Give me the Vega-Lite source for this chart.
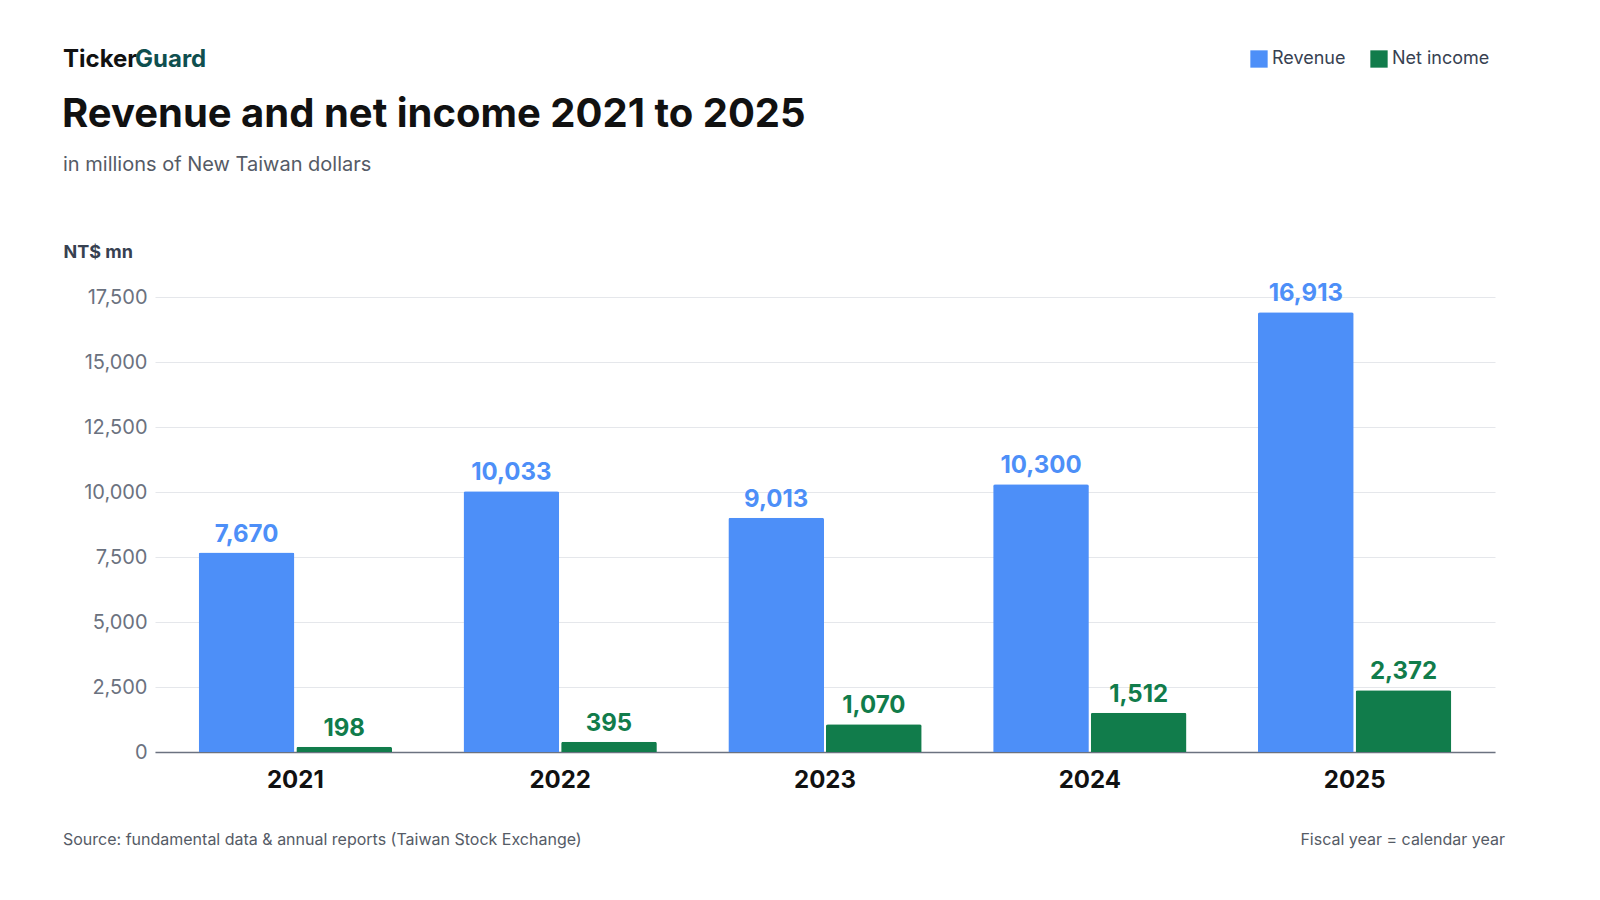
{
"$schema":"https://vega.github.io/schema/vega-lite/v6.json",
"width":1340,"height":455,
"autosize":{"type":"none"},
"padding":{"left":155,"top":297,"right":95,"bottom":100},
"background":"white",
"config":{"font":"Inter","view":{"stroke":null}},
"layer":[
{"data":{"values":[
{"year":"2021","series":"Revenue","value":7670},{"year":"2021","series":"Net income","value":198},
{"year":"2022","series":"Revenue","value":10033},{"year":"2022","series":"Net income","value":395},
{"year":"2023","series":"Revenue","value":9013},{"year":"2023","series":"Net income","value":1070},
{"year":"2024","series":"Revenue","value":10300},{"year":"2024","series":"Net income","value":1512},
{"year":"2025","series":"Revenue","value":16913},{"year":"2025","series":"Net income","value":2372}]},
"encoding":{
"x":{"field":"year","type":"nominal","scale":{"paddingInner":0.27,"paddingOuter":0.165},"axis":{"title":null,"labelAngle":0,"labelFontSize":24,"labelFontWeight":"bold","labelColor":"#111111","labelPadding":16,"ticks":false,"domainColor":"#6b7280","domainWidth":1.5}},
"xOffset":{"field":"series","type":"nominal","sort":["Revenue","Net income"],"scale":{"paddingInner":0.02}},
"y":{"field":"value","type":"quantitative","scale":{"domain":[0,17500],"nice":false},"axis":{"values":[0,2500,5000,7500,10000,12500,15000,17500],"format":",d","title":"NT$ mn","titleAngle":0,"titleAlign":"left","titleBaseline":"middle","titleX":-92,"titleY":-45,"titleFontSize":18,"titleFontWeight":"bold","titleColor":"#374151","labelFontSize":20,"labelColor":"#6b7280","labelPadding":8,"ticks":false,"domain":false,"gridColor":"#e5e7eb"}},
"color":{"field":"series","type":"nominal","sort":["Revenue","Net income"],"scale":{"domain":["Revenue","Net income"],"range":["#4d8ff8","#117c4b"]},"legend":{"title":null,"orient":"none","legendX":1095,"legendY":-247,"direction":"horizontal","symbolType":"square","symbolSize":300,"symbolStrokeWidth":0,"symbolOpacity":1,"labelFontSize":18,"labelColor":"#374151","columnPadding":24}}
},
"layer":[
{"mark":{"type":"bar","cornerRadiusTopLeft":2,"cornerRadiusTopRight":2}},
{"mark":{"type":"text","dy":-6,"baseline":"bottom","fontSize":24,"fontWeight":"bold"},"encoding":{"text":{"field":"value","type":"quantitative","format":","}}}
]},
{"data":{"values":[{}]},"mark":{"type":"text","text":"Ticker","x":-92,"y":-237,"align":"left","baseline":"middle","fontSize":24,"fontWeight":"bold","color":"#111111"},"encoding":{}},
{"data":{"values":[{}]},"mark":{"type":"text","text":"Guard","x":-20,"y":-237,"align":"left","baseline":"middle","fontSize":24,"fontWeight":"bold","color":"#0f4f4f"},"encoding":{}},
{"data":{"values":[{}]},"mark":{"type":"text","text":"Revenue and net income 2021 to 2025","x":-93,"y":-182,"align":"left","baseline":"middle","fontSize":40,"fontWeight":"bold","color":"#111111"},"encoding":{}},
{"data":{"values":[{}]},"mark":{"type":"text","text":"in millions of New Taiwan dollars","x":-92,"y":-132,"align":"left","baseline":"middle","fontSize":20,"color":"#555b66"},"encoding":{}},
{"data":{"values":[{}]},"mark":{"type":"text","text":"Source: fundamental data & annual reports (Taiwan Stock Exchange)","x":-92,"y":543,"align":"left","baseline":"middle","fontSize":16,"color":"#555b66"},"encoding":{}},
{"data":{"values":[{}]},"mark":{"type":"text","text":"Fiscal year = calendar year","x":1350,"y":543,"align":"right","baseline":"middle","fontSize":16,"color":"#555b66"},"encoding":{}}
]
}
